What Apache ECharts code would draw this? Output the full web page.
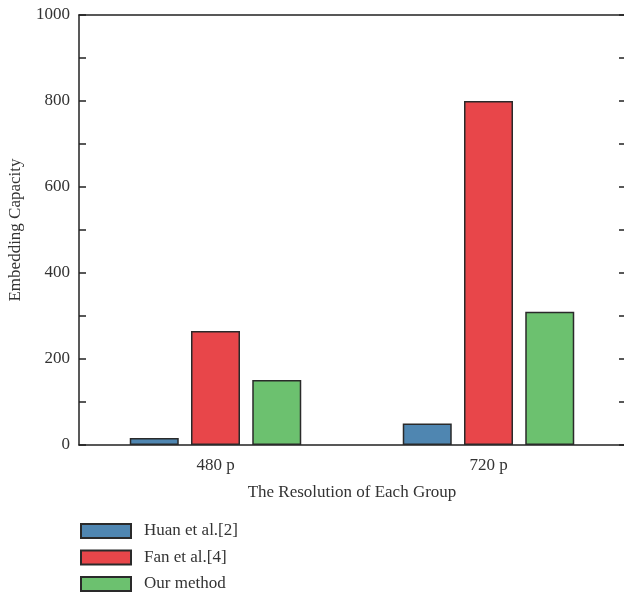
<!DOCTYPE html>
<html><head><meta charset="utf-8">
<script src="https://cdn.jsdelivr.net/npm/echarts@6/dist/echarts.min.js"></script>
<style>html,body{margin:0;padding:0;background:#fff}#c{width:624px;height:597px}</style>
</head><body><div id="c"></div>
<script>
const categories = ['480 p', '720 p'];
const seriesNames = ['Huan et al.[2]', 'Fan et al.[4]', 'Our method'];
const huan = [16, 50];
const fan = [265, 800];
const ours = [151, 310];
const colors = ['#4f86b1', '#e8464a', '#6cc16f'];
const font = 'Liberation Serif';

const chart = echarts.init(document.getElementById('c'));
const datasets = [huan, fan, ours];
chart.setOption({
  animation: false,
  textStyle: { fontFamily: font },
  grid: { left: 79, top: 15, width: 546, height: 430, containLabel: false, outerBoundsMode: 'none' },
  legend: {
    orient: 'vertical', left: 80, top: 522, height: 80, width: 300, padding: 0,
    itemWidth: 50, itemHeight: 14, itemGap: 8.5,
    icon: 'rect',
    textStyle: { fontFamily: font, fontSize: 17, color: '#333', padding: [0, 0, 0, 8], lineHeight: 18 },
    data: seriesNames
  },
  xAxis: [{
    type: 'category', data: categories,
    name: 'The Resolution of Each Group', nameLocation: 'middle', nameGap: 39,
    nameTextStyle: { fontFamily: font, fontSize: 17, color: '#333' },
    axisLine: { lineStyle: { color: '#222', width: 1.5 } },
    axisTick: { show: true, inside: true, alignWithLabel: true, length: 6, lineStyle: { color: '#222', width: 1.5 } },
    axisLabel: { fontFamily: font, fontSize: 17, color: '#333', margin: 12 }
  }, {
    type: 'category', data: categories, position: 'top',
    axisLine: { show: true, onZero: false, lineStyle: { color: '#222', width: 1.5 } },
    axisTick: { show: false }, axisLabel: { show: false }
  }],
  yAxis: [{
    type: 'value', min: 0, max: 1000, interval: 200,
    name: 'Embedding Capacity', nameLocation: 'middle', nameGap: 55,
    nameTextStyle: { fontFamily: font, fontSize: 17, color: '#333' },
    axisLine: { show: true, lineStyle: { color: '#222', width: 1.5 } },
    axisTick: { show: true, inside: true, length: 7, lineStyle: { color: '#222', width: 1.5 } },
    minorTick: { show: true, splitNumber: 2, length: 7, lineStyle: { color: '#222', width: 1.5 } },
    splitLine: { show: false },
    axisLabel: { fontFamily: font, fontSize: 17, color: '#333', margin: 9, formatter: v => String(v) }
  }, {
    type: 'value', min: 0, max: 1000, interval: 200, position: 'right',
    axisLine: { show: false },
    axisTick: { show: true, inside: true, length: 6, lineStyle: { color: '#222', width: 1.5 } },
    minorTick: { show: true, splitNumber: 2, length: 6, lineStyle: { color: '#222', width: 1.5 } },
    splitLine: { show: false }, axisLabel: { show: false }
  }],
  series: seriesNames.map((n, i) => ({
    name: n, type: 'bar', data: datasets[i],
    barWidth: 49, barGap: '25%',
    itemStyle: { color: colors[i], borderColor: '#2a2a2a', borderWidth: 1.5 }
  }))
});
</script></body></html>
